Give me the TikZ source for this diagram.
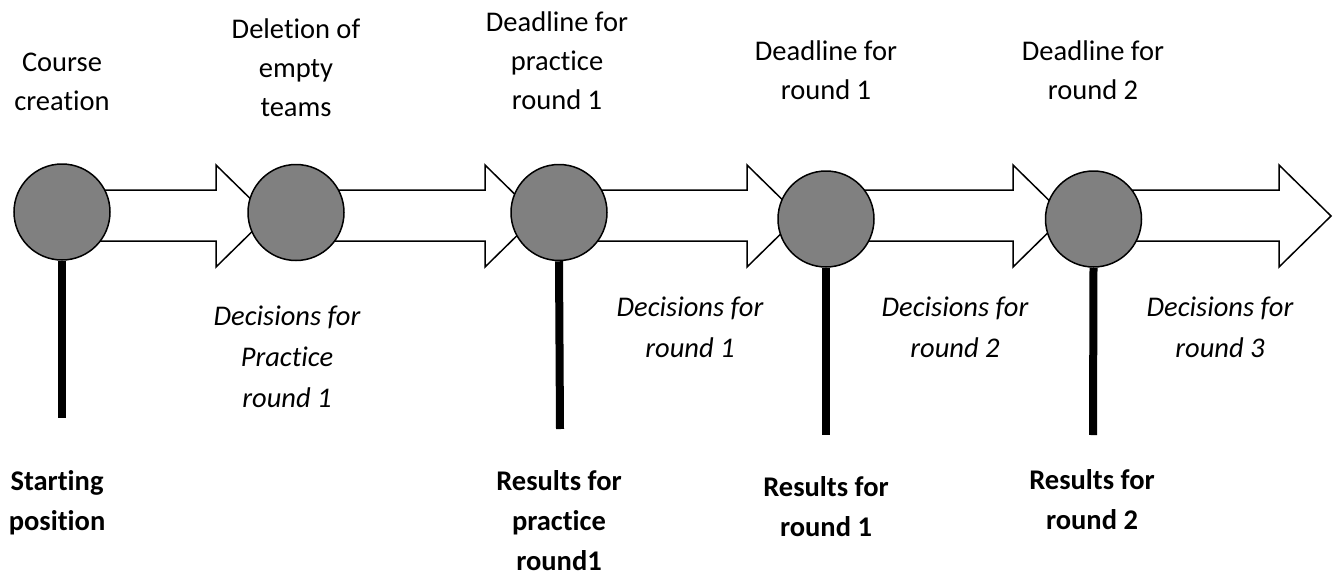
\documentclass[tikz,border=0pt]{standalone}
\usepackage{fontspec}
\setmainfont{Carlito}[Ligatures=NoCommon]
\begin{document}
\begin{tikzpicture}[x=1pt,y=-1pt,
	event/.style={draw,circle,line width=1.5pt,fill=black!50,minimum size=96pt,inner sep=0pt},
	stem/.style={line width=8pt},
	blockarrow/.style={draw,line width=1.5pt,fill=white,line join=miter},
	toplabel/.style={align=center,inner sep=0pt,font=\fontsize{28.5}{39}\selectfont},
	declabel/.style={align=center,inner sep=0pt,font=\fontsize{28.5}{41}\selectfont\itshape},
	reslabel/.style={align=center,inner sep=0pt,font=\fontsize{28.5}{40}\selectfont\bfseries}]
		\useasboundingbox (0,0) rectangle (1334,579);
		% block arrows between the events
		\foreach \s/\h in {62/216,296/485,559/747,826/1013,1093/1279}
			\draw[blockarrow] (\s,190) -- (\h,190) -- (\h,165) -- (\h+52,216) -- (\h,267) -- (\h,241) -- (\s,241) -- cycle;

		% events on the timeline
		\node[event] (1) at (62,212) {};
		\node[event] (2) at (296,212.5) {};
		\node[event] (3) at (559,212.5) {};
		\node[event] (4) at (826,219) {};
		\node[event] (5) at (1093.5,219) {};

		\coordinate (1e) at (62,418);
		\coordinate (3e) at (560,429);
		\coordinate (4e) at (826,435);
		\coordinate (5e) at (1093,435);
		\draw[stem] (1.south) -- (1e);
		\draw[stem] (3.south) -- (3e);
		\draw[stem] (4.south) -- (4e);
		\draw[stem] (5.south) -- (5e);

		\node[toplabel] (1t) at (62,82) {Course\\creation};
		\node[toplabel] (2t) at (296,68) {Deletion of\\empty\\teams};
		\node[toplabel] (3t) at (557,61) {Deadline for\\practice\\round 1};
		\node[toplabel] (4t) at (826,70) {Deadline for\\round 1};
		\node[toplabel] (5t) at (1093,70) {Deadline for\\round 2};

		\node[declabel] (12) at (287,357) {Decisions for\\Practice\\round 1};
		\node[declabel] (34) at (690,327) {Decisions for\\round 1};
		\node[declabel] (45) at (955,327) {Decisions for\\round 2};
		\node[declabel] (56) at (1220,327) {Decisions for\\round 3};

		\node[reslabel] (1r) at (57,503) {Starting\\position};
		\node[reslabel] (3r) at (559,521) {Results for\\practice\\round1};
		\node[reslabel] (4r) at (826,507) {Results for\\round 1};
		\node[reslabel] (5r) at (1092,500) {Results for\\round 2};
	\end{tikzpicture}
\end{document}
